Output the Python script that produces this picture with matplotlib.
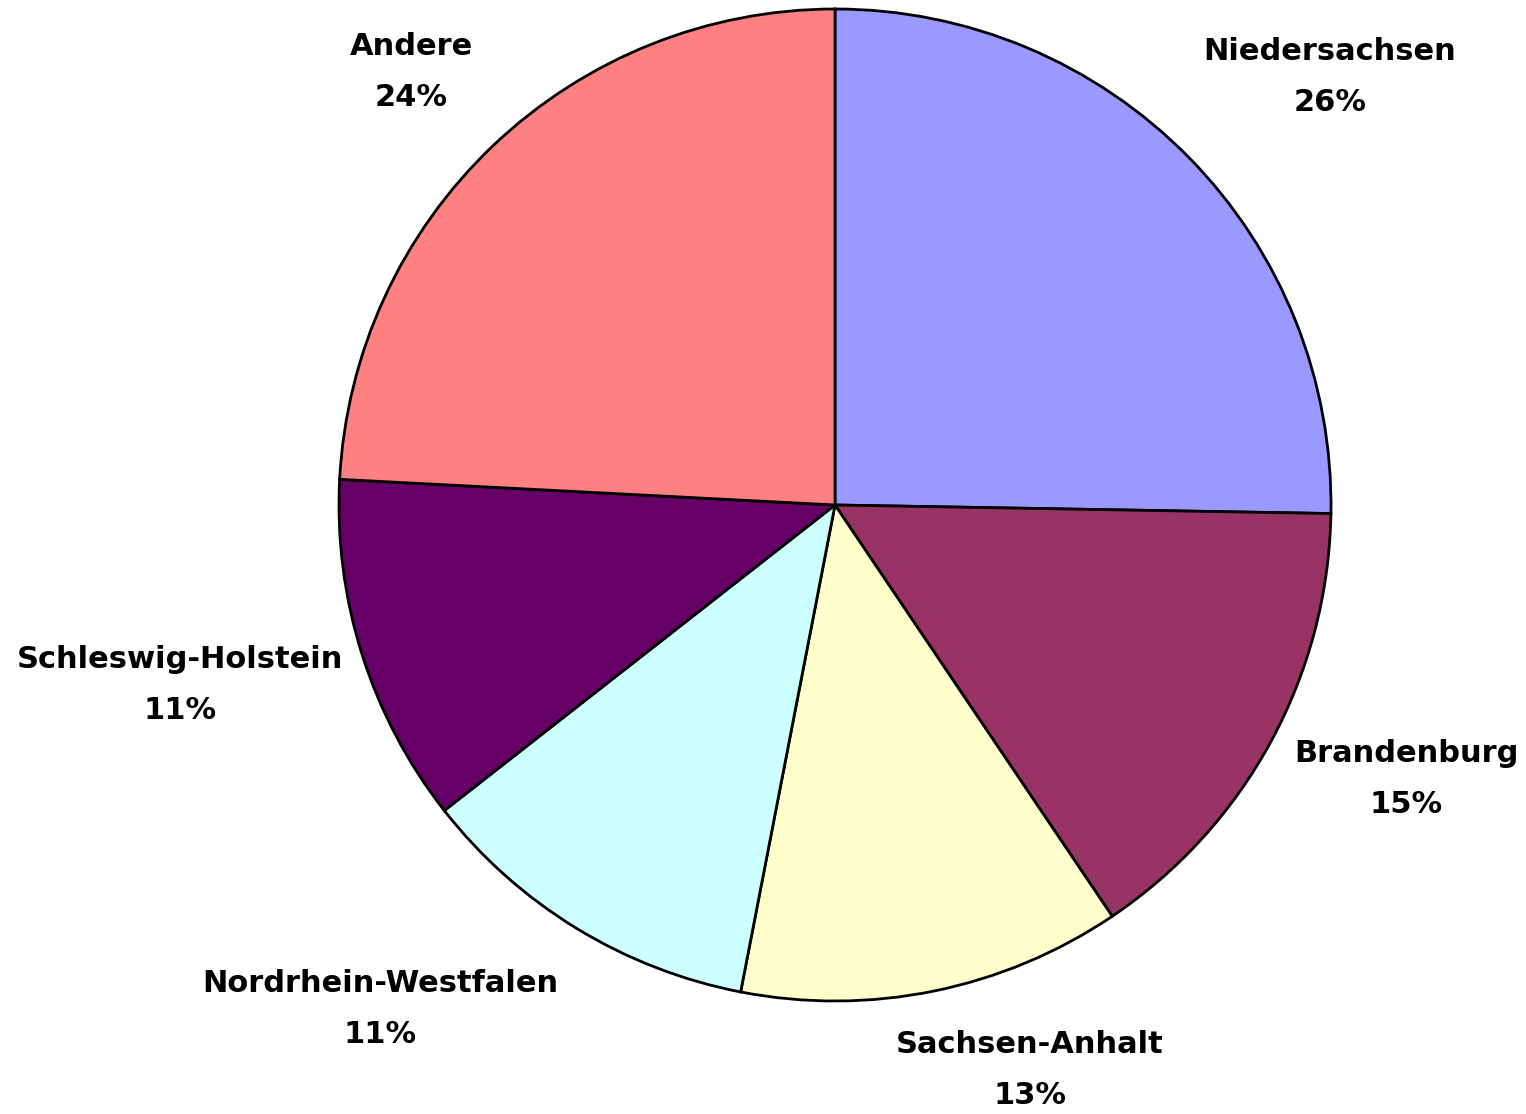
import matplotlib
matplotlib.use("Agg")
import matplotlib.pyplot as plt

# Data
categories = ["Niedersachsen", "Brandenburg", "Sachsen-Anhalt",
              "Nordrhein-Westfalen", "Schleswig-Holstein", "Andere"]
values = [25.3, 15.3, 12.5, 11.4, 11.4, 24.2]
pct_labels = ["26%", "15%", "13%", "11%", "11%", "24%"]

# Style / layout
colors = ["#9999FF", "#993366", "#FFFFCC", "#CCFFFF", "#660066", "#FF8080"]
W, H = 1526, 1114
CX, CY, R = 835, 505, 496
# label centres in pixel coordinates (layout)
label_pos = [(1330, 77), (1406, 779), (1030, 1070),
             (380, 1009), (180, 685), (411, 72)]

fig = plt.figure(figsize=(W / 100, H / 100), dpi=100)
ax = fig.add_axes([0, 0, 1, 1])
ax.pie(values, colors=colors, startangle=90, counterclock=False,
       radius=1.0, center=(0, 0),
       wedgeprops=dict(edgecolor="black", linewidth=2.0))
ax.set_xlim(-CX / R, (W - CX) / R)
ax.set_ylim(-(H - CY) / R, CY / R)
ax.set_aspect("auto")
ax.axis("off")

for cat, pct, (px, py) in zip(categories, pct_labels, label_pos):
    ax.text((px - CX) / R, (CY - py) / R, f"{cat}\n{pct}",
            ha="center", va="center", fontsize=22, fontweight="bold",
            family=["DejaVu Sans"], linespacing=1.95, color="black")

fig.savefig("out.png", dpi=100)
